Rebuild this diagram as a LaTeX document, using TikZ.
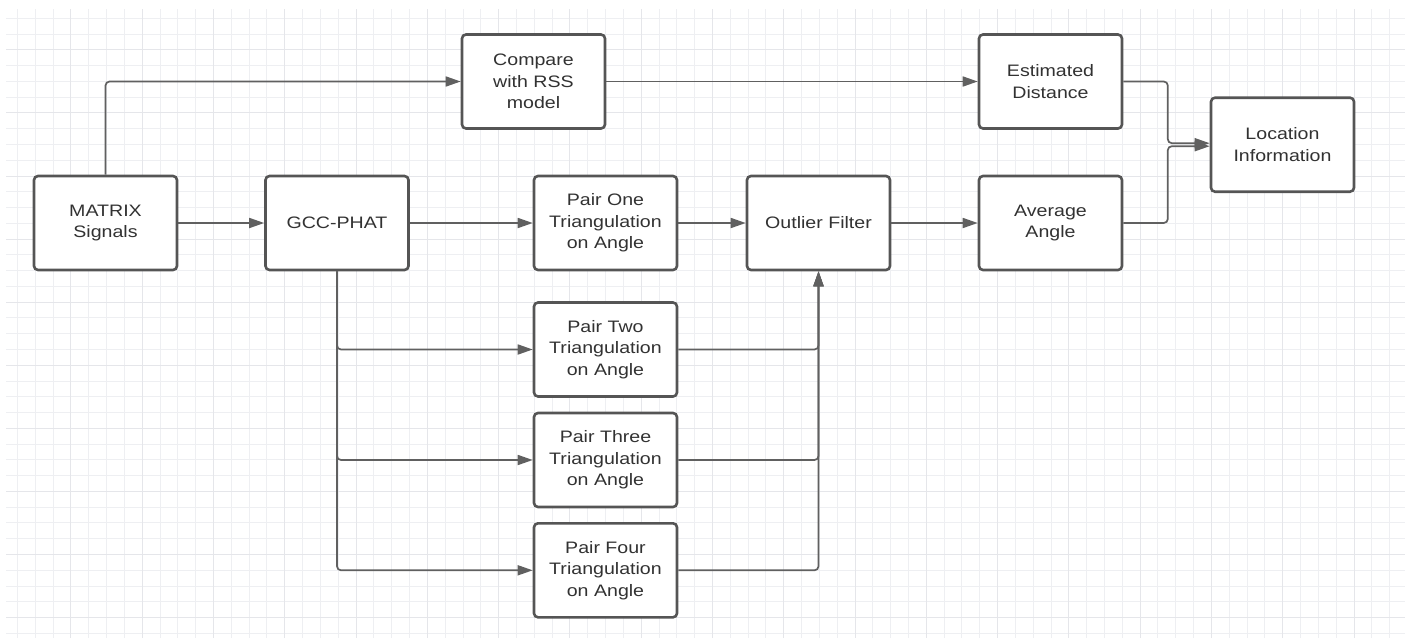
\documentclass[tikz,border=0pt]{standalone}
\usepackage{fontspec}
\setmainfont{Liberation Sans}[FakeStretch=1.18]
\usetikzlibrary{arrows.meta}
\definecolor{gridmin}{RGB}{238,239,242}
\definecolor{gridmaj}{RGB}{229,230,234}
\definecolor{boxline}{RGB}{85,85,85}
\definecolor{connline}{RGB}{96,96,96}
\definecolor{txt}{RGB}{50,50,50}
\tikzset{
  gmin/.style={draw=gridmin,line width=1pt},
  gmaj/.style={draw=gridmaj,line width=1pt},
  blockbox/.style={draw=boxline,fill=white,line width=2.6pt,rounded corners=4pt,
    minimum width=143pt,minimum height=94pt,align=center,text=txt,inner sep=0pt,
    font=\fontsize{16.6}{21.5}\selectfont},
  conn/.style={draw=connline,line width=1.7pt,rounded corners=4pt,
    -{Triangle[length=15pt,width=10pt]}},
}
\begin{document}
\begin{tikzpicture}[x=1pt,y=-1pt]
\useasboundingbox (0,0) rectangle (1409,638);
\fill[white] (0,0) rectangle (1409,638);
% grid
\foreach \k in {0,...,77} \draw[gmin] ({17.5+17.82*\k},9) -- ++(0,629);
\foreach \k in {0,...,39} \draw[gmin] (6,{18.3+15.77*\k}) -- (1405,{18.3+15.77*\k});
\foreach \k in {3,7,...,75} \draw[gmaj] ({17.5+17.82*\k},9) -- ++(0,629);
\foreach \k in {2,6,...,38} \draw[gmaj] (6,{18.3+15.77*\k}) -- (1405,{18.3+15.77*\k});
% nodes
\node[blockbox] (sig) at (105.5,223) {MATRIX\\Signals};
\node[blockbox] (gcc) at (337,223) {GCC-PHAT};
\node[blockbox] (cmp) at (533.5,81.5) {Compare\\with RSS\\model};
\node[blockbox] (p1) at (605.5,223) {Pair One\\Triangulation\\on Angle};
\node[blockbox] (p2) at (605.5,349.5) {Pair Two\\Triangulation\\on Angle};
\node[blockbox] (p3) at (605.5,460) {Pair Three\\Triangulation\\on Angle};
\node[blockbox] (p4) at (605.5,570.3) {Pair Four\\Triangulation\\on Angle};
\node[blockbox] (out) at (818.5,223) {Outlier Filter};
\node[blockbox] (est) at (1050.5,81.5) {Estimated\\Distance};
\node[blockbox] (avg) at (1050.5,223) {Average\\Angle};
\node[blockbox] (loc) at (1282.5,144.7) {Location\\Information};
% connectors
\draw[conn] (sig.north) |- (cmp.west);
\draw[conn] (sig) -- (gcc);
\draw[conn] (cmp) -- (est);
\draw[conn] (gcc) -- (p1);
\draw[conn] (p1) -- (out);
\draw[conn] (out) -- (avg);
\draw[conn] (gcc.south) |- (p2.west);
\draw[conn] (gcc.south) |- (p3.west);
\draw[conn] (gcc.south) |- (p4.west);
\draw[conn] (p2.east) -| (out.south);
\draw[conn] (p3.east) -| (out.south);
\draw[conn] (p4.east) -| (out.south);
\draw[conn] (est.east) -- ++(44.5,0) |- ([yshift=1.5pt]loc.west);
\draw[conn] (avg.east) -- ++(44.5,0) |- ([yshift=-1.5pt]loc.west);
\end{tikzpicture}
\end{document}
